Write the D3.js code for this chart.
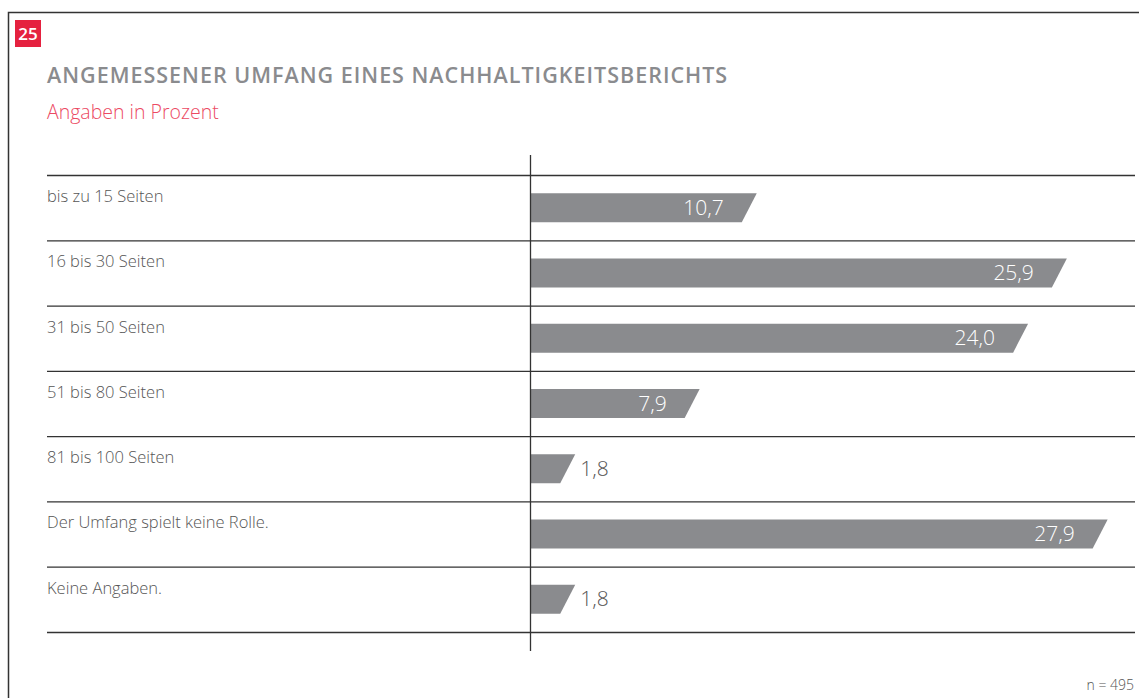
<!DOCTYPE html>
<html>
<head>
<meta charset="utf-8">
<script src="https://cdn.jsdelivr.net/npm/d3@7"></script>
<style>
  body { margin: 0; background: #fff; }
  svg { display: block; font-family: "Open Sans", "Noto Sans", sans-serif; }
</style>
</head>
<body>
<script>
// Daten
const categories = [
  "bis zu 15 Seiten",
  "16 bis 30 Seiten",
  "31 bis 50 Seiten",
  "51 bis 80 Seiten",
  "81 bis 100 Seiten",
  "Der Umfang spielt keine Rolle.",
  "Keine Angaben."
];
const values = [10.7, 25.9, 24.0, 7.9, 1.8, 27.9, 1.8];
const chartNumber = "25";
const title = "ANGEMESSENER UMFANG EINES NACHHALTIGKEITSBERICHTS";
const subtitle = "Angaben in Prozent";
const sampleNote = "n = 495";

const width = 1139;
const height = 698;
const grey = "#8a8b8e";
const red = "#e5213f";

const svg = d3.select("body").append("svg")
  .attr("width", width)
  .attr("height", height);

// Rahmen (oben und links)
svg.append("path")
  .attr("d", "M8.5," + height + "V12.5H" + width)
  .attr("fill", "none")
  .attr("stroke", "#333")
  .attr("stroke-width", 1.5);

// Nummer
svg.append("rect")
  .attr("x", 15).attr("y", 20).attr("width", 26).attr("height", 27)
  .attr("fill", red);
svg.append("text")
  .attr("x", 28).attr("y", 40)
  .attr("text-anchor", "middle")
  .attr("fill", "#fff")
  .attr("font-size", 17)
  .attr("font-weight", 600)
  .text(chartNumber);

// Titel
svg.append("text")
  .attr("x", 47).attr("y", 83)
  .attr("fill", grey)
  .attr("font-size", 21.5)
  .attr("font-weight", 600)
  .attr("letter-spacing", 1)
  .text(title);

svg.append("text")
  .attr("x", 47).attr("y", 119)
  .attr("fill", "#ec4a63")
  .attr("font-size", 19.5)
  .attr("font-weight", 300)
  .text(subtitle);

// Skalen
const y = d3.scaleBand()
  .domain(categories)
  .range([175, 632])
  .padding(0);

const x = d3.scaleLinear()
  .domain([0, 28])
  .range([531, 531 + 28 * 20.4]);

const barH = 29;
const slant = 15;

// Zeilenlinien
const lines = y.domain().map(d => y(d)).concat([y.range()[1]]);
svg.selectAll("line.row")
  .data(lines)
  .enter()
  .append("line")
  .attr("class", "row")
  .attr("x1", 47).attr("x2", 1135)
  .attr("y1", d => d + 0.5).attr("y2", d => d + 0.5)
  .attr("stroke", "#333")
  .attr("stroke-width", 1.3);

// Kategorien
svg.selectAll("text.label")
  .data(categories)
  .enter()
  .append("text")
  .attr("class", "label")
  .attr("x", 47)
  .attr("y", d => y(d) + 27)
  .attr("fill", "#555")
  .attr("font-size", 16.5)
  .attr("font-weight", 300)
  .text(d => d);

// Balken
const bars = svg.selectAll("g.bar")
  .data(categories.map((c, i) => ({ c: c, v: values[i] })))
  .enter()
  .append("g")
  .attr("class", "bar");

bars.append("path")
  .attr("d", d => {
    const top = y(d.c) + (y.bandwidth() - barH) / 2;
    const xr = x(d.v);
    return "M" + x(0) + "," + top +
      "H" + (xr + slant / 2) +
      "L" + (xr - slant / 2) + "," + (top + barH) +
      "H" + x(0) + "Z";
  })
  .attr("fill", grey);

bars.append("text")
  .attr("x", d => d.v < 5 ? x(d.v) + slant / 2 + 5 : x(d.v) + slant / 2 - 33)
  .attr("y", d => y(d.c) + y.bandwidth() / 2 + 7)
  .attr("text-anchor", d => d.v < 5 ? "start" : "end")
  .attr("fill", d => d.v < 5 ? "#555" : "#fff")
  .attr("font-size", 21)
  .attr("font-weight", 300)
  .text(d => d3.format(".1f")(d.v).replace(".", ","));

// Achse
svg.append("line")
  .attr("x1", 530.5).attr("x2", 530.5)
  .attr("y1", 155).attr("y2", 651)
  .attr("stroke", "#333")
  .attr("stroke-width", 1.3);

// Fallzahl
svg.append("text")
  .attr("x", 1134).attr("y", 690)
  .attr("text-anchor", "end")
  .attr("fill", "#555")
  .attr("font-size", 14)
  .attr("font-weight", 300)
  .text(sampleNote);
</script>
</body>
</html>
